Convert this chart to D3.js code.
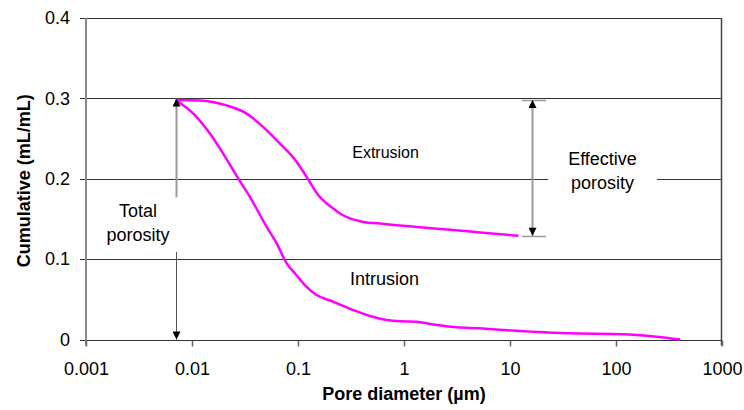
<!DOCTYPE html>
<html>
<head>
<meta charset="utf-8">
<script src="https://cdn.jsdelivr.net/npm/d3@7"></script>
<style>
    body { margin: 0; background: #fff; }
    svg { display: block; font-family: "Liberation Sans", Arial, sans-serif; }
</style>
</head>
<body>
<svg id="chart" width="744" height="410"></svg>
<script>
// axis ticks
const xTickValues = [0.001, 0.01, 0.1, 1, 10, 100, 1000];
const xTickLabels = ['0.001', '0.01', '0.1', '1', '10', '100', '1000'];
const yTickValues = [0, 0.1, 0.2, 0.3, 0.4];
const yTickLabels = ['0', '0.1', '0.2', '0.3', '0.4'];

// intrusion curve (pore diameter in µm, cumulative mL/mL)
const intrusionDiameter = [0.007, 0.0103, 0.0148, 0.0184, 0.0274, 0.0352, 0.0507, 0.063, 0.0782, 0.0938,
    0.116, 0.15, 0.215, 0.333, 0.477, 0.687, 0.917, 1.32, 1.76, 3.14, 5.21, 8.65, 17.9, 36.8, 117, 157, 242, 402];
const intrusionVolume = [0.298, 0.281, 0.256, 0.2375, 0.2, 0.1774, 0.14, 0.1195, 0.0947, 0.0822,
    0.0677, 0.0553, 0.047, 0.0366, 0.0292, 0.0242, 0.0226, 0.0221, 0.0193, 0.0152, 0.0139, 0.0118, 0.0093, 0.0077, 0.0065, 0.0056, 0.0035, 0.0];

// extrusion curve
const extrusionDiameter = [0.007, 0.0119, 0.0212, 0.0328, 0.0471, 0.0676, 0.0973, 0.1208, 0.1557, 0.215,
    0.249, 0.31, 0.413, 0.594, 0.853, 1.32, 2.53, 5.21, 12.0];
const extrusionVolume = [0.298, 0.2975, 0.2913, 0.281, 0.2643, 0.2437, 0.2209, 0.2022, 0.1795, 0.163,
    0.1568, 0.1506, 0.1463, 0.1443, 0.1422, 0.1401, 0.1369, 0.1332, 0.129];

// annotation anchors (data units)
const totalPorosityAt = 0.00714;
const totalPorosity = 0.3;
const effectivePorosityAt = 16;
const effectiveTop = 0.298;
const effectiveBottom = 0.129;

const config = {
    width: 744,
    height: 410,
    margin: {top: 18, right: 22, bottom: 70.5, left: 86}
};

const innerWidth = config.width - config.margin.left - config.margin.right;
const innerHeight = config.height - config.margin.top - config.margin.bottom;

const svg = d3.select('#chart');

// arrow head
const defs = svg.append('defs');
defs.append('marker')
    .attr('id', 'head')
    .attr('viewBox', '0 0 10 10')
    .attr('refX', 10)
    .attr('refY', 5)
    .attr('markerUnits', 'userSpaceOnUse')
    .attr('markerWidth', 13)
    .attr('markerHeight', 8)
    .attr('orient', 'auto-start-reverse')
    .append('path')
    .attr('d', 'M0,0L10,5L0,10Z')
    .attr('fill', '#000');

const chart = svg.append('g')
    .attr('transform', `translate(${config.margin.left},${config.margin.top})`);

const xScale = d3.scaleLog()
    .domain([0.001, 1000])
    .range([0, innerWidth]);

const yScale = d3.scaleLinear()
    .domain([0, 0.4])
    .range([innerHeight, 0]);

// horizontal grid lines
chart.selectAll('.grid')
    .data(yTickValues)
    .join('line')
    .attr('class', 'grid')
    .attr('x1', -6)
    .attr('x2', innerWidth)
    .attr('y1', d => Math.round(yScale(d)) + 0.5)
    .attr('y2', d => Math.round(yScale(d)) + 0.5)
    .attr('stroke', '#333')
    .attr('stroke-width', 1);

// right border
chart.append('line')
    .attr('x1', innerWidth - 0.5)
    .attr('x2', innerWidth - 0.5)
    .attr('y1', yScale(0.4))
    .attr('y2', yScale(0) + 6)
    .attr('stroke', '#444')
    .attr('stroke-width', 1.5);

// y axis
const yAxis = d3.axisLeft(yScale)
    .tickValues(yTickValues)
    .tickFormat((d, i) => yTickLabels[i])
    .tickSize(0)
    .tickPadding(16);

const yAxisG = chart.append('g').call(yAxis);
yAxisG.select('.domain').remove();
yAxisG.selectAll('text')
    .attr('font-size', 18)
    .attr('font-family', '"Liberation Sans", Arial, sans-serif')
    .attr('fill', '#000');

chart.append('line')
    .attr('x1', 0)
    .attr('x2', 0)
    .attr('y1', yScale(0.4))
    .attr('y2', yScale(0) + 6)
    .attr('stroke', '#888')
    .attr('stroke-width', 2);

// x axis
const xAxis = d3.axisBottom(xScale)
    .tickValues(xTickValues)
    .tickFormat((d, i) => xTickLabels[i])
    .tickSize(6)
    .tickSizeOuter(0);

const xAxisG = chart.append('g')
    .attr('transform', `translate(0,${Math.round(innerHeight) + 0.5})`)
    .call(xAxis);
xAxisG.select('.domain').remove();
xAxisG.selectAll('.tick line').attr('stroke', '#666').attr('stroke-width', 1.5);
xAxisG.selectAll('text')
    .attr('y', 34)
    .attr('dy', 0)
    .attr('font-size', 18)
    .attr('font-family', '"Liberation Sans", Arial, sans-serif')
    .attr('fill', '#000');

// axis titles
chart.append('text')
    .attr('x', innerWidth / 2)
    .attr('y', innerHeight + 60)
    .attr('text-anchor', 'middle')
    .attr('font-size', 18)
    .attr('font-weight', 'bold')
    .text('Pore diameter (µm)');

chart.append('text')
    .attr('transform', `translate(${30 - config.margin.left},${innerHeight / 2 + 2}) rotate(-90)`)
    .attr('text-anchor', 'middle')
    .attr('font-size', 18)
    .attr('font-weight', 'bold')
    .text('Cumulative (mL/mL)');

// curves
const line = d3.line()
    .x(d => xScale(d[0]))
    .y(d => yScale(d[1]))
    .curve(d3.curveMonotoneX);

const series = [
    d3.zip(intrusionDiameter, intrusionVolume),
    d3.zip(extrusionDiameter, extrusionVolume)
];

chart.selectAll('.curve')
    .data(series)
    .join('path')
    .attr('class', 'curve')
    .attr('d', line)
    .attr('fill', 'none')
    .attr('stroke', '#ff00ff')
    .attr('stroke-width', 2.5)
    .attr('stroke-linejoin', 'round');

// total porosity arrows
const tx = Math.round(xScale(totalPorosityAt)) + 0.5;
chart.append('line')
    .attr('x1', tx).attr('x2', tx)
    .attr('y1', yScale(0.177))
    .attr('y2', yScale(totalPorosity))
    .attr('stroke', '#999')
    .attr('stroke-width', 2)
    .attr('marker-end', 'url(#head)');

chart.append('line')
    .attr('x1', tx).attr('x2', tx)
    .attr('y1', yScale(0.109))
    .attr('y2', yScale(0))
    .attr('stroke', '#555')
    .attr('stroke-width', 1)
    .attr('marker-end', 'url(#head)');

// effective porosity arrow with caps
const ex = Math.round(xScale(effectivePorosityAt)) + 0.5;
chart.selectAll('.cap')
    .data([effectiveTop, effectiveBottom])
    .join('line')
    .attr('class', 'cap')
    .attr('x1', xScale(13))
    .attr('x2', xScale(21.9))
    .attr('y1', d => Math.round(yScale(d)) + 0.5)
    .attr('y2', d => Math.round(yScale(d)) + 0.5)
    .attr('stroke', '#999')
    .attr('stroke-width', 1.5);

chart.append('line')
    .attr('x1', ex).attr('x2', ex)
    .attr('y1', yScale(effectiveTop))
    .attr('y2', yScale(effectiveBottom))
    .attr('stroke', '#999')
    .attr('stroke-width', 2)
    .attr('marker-start', 'url(#head)')
    .attr('marker-end', 'url(#head)');

// labels
const labels = [
    {lines: ['Extrusion'], x: 0.67, y: 0.2255, size: 16},
    {lines: ['Intrusion'], x: 0.655, y: 0.0677, size: 18},
    {lines: ['Total', 'porosity'], x: 0.00309, y: 0.152, size: 18},
    {lines: ['Effective', 'porosity'], x: 74.6, y: 0.2168, size: 18, box: true}
];

labels.forEach(l => {
    const g = chart.append('g');
    const t = g.append('text')
        .attr('text-anchor', 'middle')
        .attr('font-size', l.size)
        .attr('fill', '#000');
    l.lines.forEach((s, i) => {
        t.append('tspan')
            .attr('x', xScale(l.x))
            .attr('y', yScale(l.y) + i * 23.5)
            .text(s);
    });
    if (l.box) {
        const bb = t.node().getBBox();
        g.insert('rect', 'text')
            .attr('x', bb.x - 20)
            .attr('y', bb.y - 4)
            .attr('width', bb.width + 40)
            .attr('height', bb.height + 8)
            .attr('fill', '#fff');
    }
});
</script>
</body>
</html>
